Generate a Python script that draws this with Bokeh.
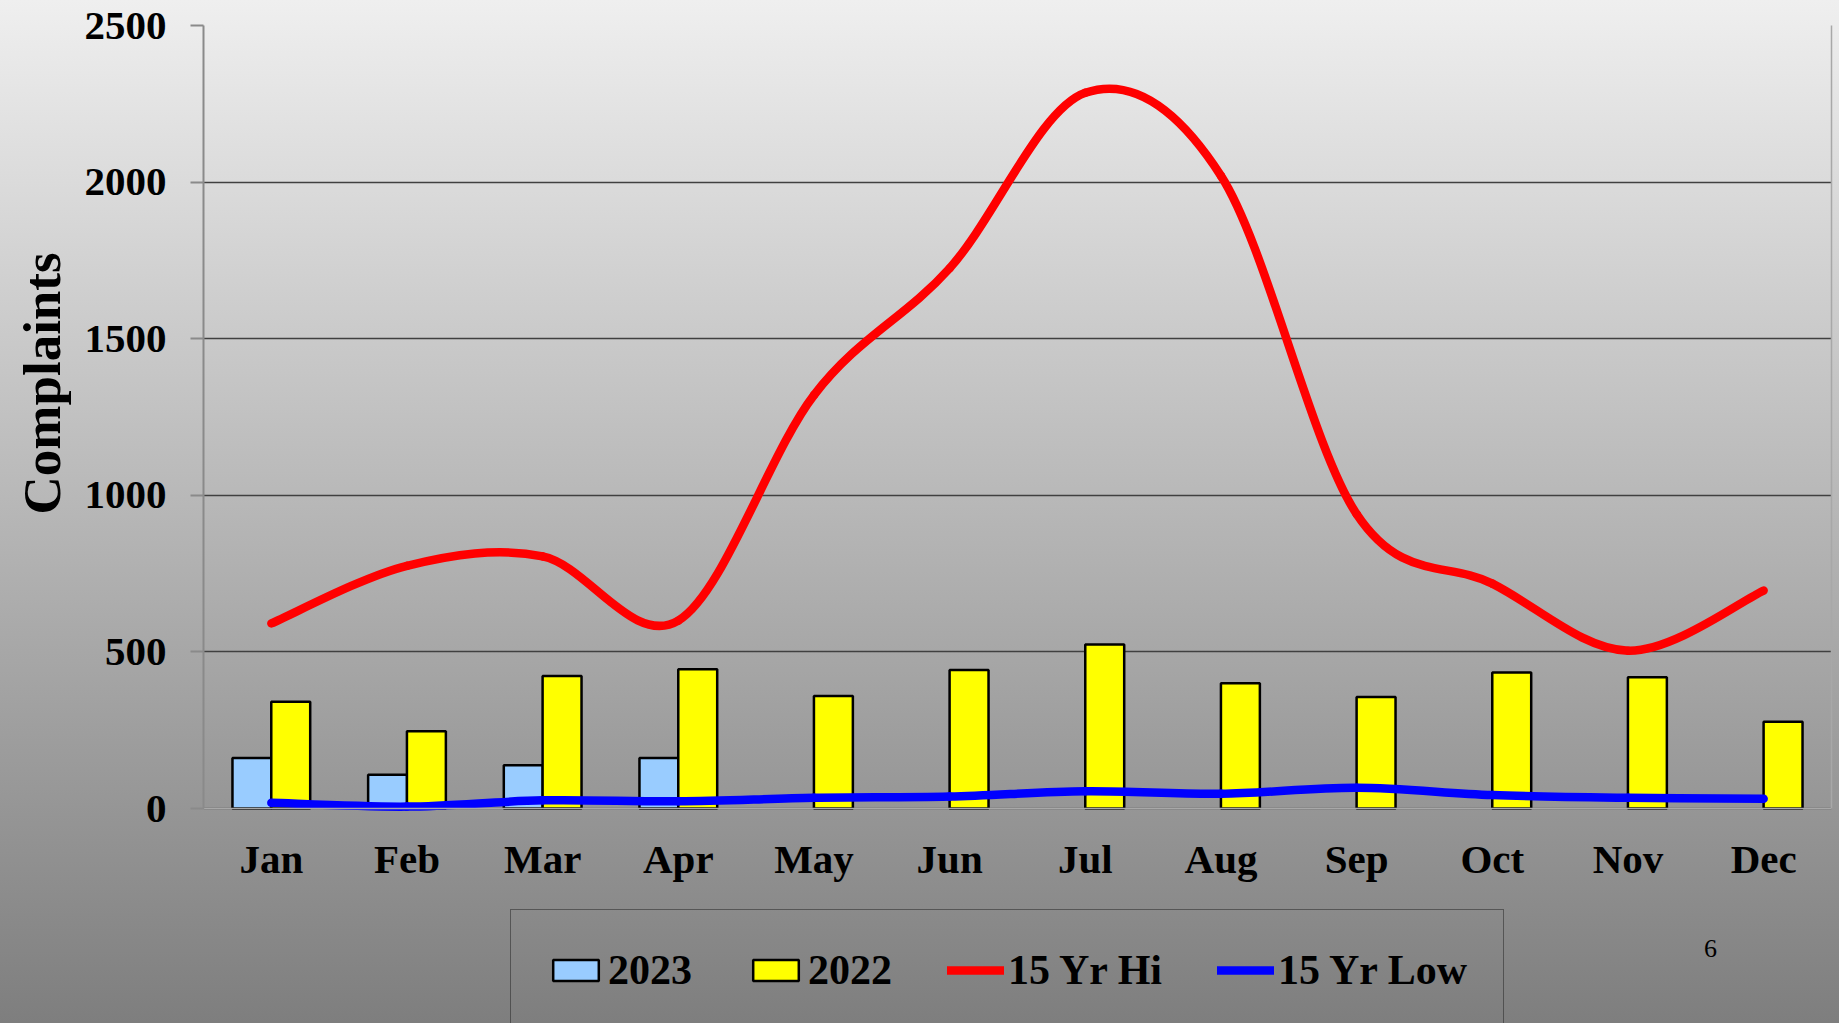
from bokeh.plotting import figure
from bokeh.models import (ColumnDataSource, FixedTicker, Legend, LegendItem, Title, Label,
                          LinearAxis)
from bokeh.embed import file_html
from bokeh.resources import INLINE

months = ["Jan", "Feb", "Mar", "Apr", "May", "Jun", "Jul", "Aug", "Sep", "Oct", "Nov", "Dec"]
vals_2023 = [161, 108, 138, 161, None, None, None, None, None, None, None, None]
vals_2022 = [341, 247, 423, 445, 359, 442, 524, 400, 356, 434, 419, 277]
hi_15yr = [591, 775, 805, 600, 1320, 1725, 2285, 2020, 940, 718, 504, 696]
low_15yr = [18, 6, 26, 23, 34, 38, 55, 47, 66, 43, 34, 31]
y_ticks = [0, 500, 1000, 1500, 2000, 2500]

FONT = "Liberation Serif"
xs = list(range(1, len(months) + 1))

# frame spans from the 2500 line down to the bottom of the page (legend lives below 0)
W, H = 1839, 1023
TOP, LEFT, RIGHT = 25, 203, 8
ZERO_PX = 808                      # pixel row of the value 0
y_top = 2500
y_bottom = -(H - ZERO_PX) * y_top / (ZERO_PX - TOP)

p = figure(width=W, height=H, output_backend="svg", toolbar_location=None,
           x_range=(0.5, 12.5), y_range=(y_bottom, y_top),
           min_border_left=LEFT, min_border_right=RIGHT, min_border_top=TOP,
           min_border_bottom=0)
p.background_fill_color = None
p.border_fill_color = None
p.styles = {"background-image": "linear-gradient(to bottom, #efefef, #7e7e7e)"}
p.outline_line_color = None

# bars
off = 0.143
bw = 0.287
s23 = ColumnDataSource(dict(x=[x - off for x, v in zip(xs, vals_2023) if v is not None],
                            top=[v for v in vals_2023 if v is not None]))
s22 = ColumnDataSource(dict(x=[x + off for x in xs], top=vals_2022))
r23 = p.vbar(x="x", top="top", width=bw, bottom=0, source=s23,
             fill_color="#99ccff", line_color="black", line_width=2.5)
r22 = p.vbar(x="x", top="top", width=bw, bottom=0, source=s22,
             fill_color="#ffff00", line_color="black", line_width=2.5)

# smoothed lines (Excel-like cubic bezier through the points)
def bez(xv, yv):
    n = len(xv)
    d = dict(x0=[], y0=[], x1=[], y1=[], cx0=[], cy0=[], cx1=[], cy1=[])
    for i in range(n - 1):
        i0 = max(i - 1, 0)
        i3 = min(i + 2, n - 1)
        d["x0"].append(xv[i]); d["y0"].append(yv[i])
        d["x1"].append(xv[i + 1]); d["y1"].append(yv[i + 1])
        d["cx0"].append(xv[i] + (xv[i + 1] - xv[i0]) / 6.0)
        d["cy0"].append(yv[i] + (yv[i + 1] - yv[i0]) / 6.0)
        d["cx1"].append(xv[i + 1] - (xv[i3] - xv[i]) / 6.0)
        d["cy1"].append(yv[i + 1] - (yv[i3] - yv[i]) / 6.0)
    return ColumnDataSource(d)

p.bezier(x0="x0", y0="y0", x1="x1", y1="y1", cx0="cx0", cy0="cy0", cx1="cx1", cy1="cy1",
         source=bez(xs, hi_15yr), line_color="#ff0000", line_width=8.5, line_cap="round")
p.bezier(x0="x0", y0="y0", x1="x1", y1="y1", cx0="cx0", cy0="cy0", cx1="cx1", cy1="cy1",
         source=bez(xs, low_15yr), line_color="#0000ff", line_width=8.5, line_cap="round")
nan = float("nan")
lhi = p.line(x=[nan], y=[nan], line_color="#ff0000", line_width=8.5, line_cap="round")
llo = p.line(x=[nan], y=[nan], line_color="#0000ff", line_width=8.5, line_cap="round")

# y axis (bounded to the data area)
p.yaxis.ticker = FixedTicker(ticks=y_ticks)
p.yaxis.bounds = (0, y_top)
p.yaxis.major_label_text_font = FONT
p.yaxis.major_label_text_font_style = "bold"
p.yaxis.major_label_text_font_size = "41px"
p.yaxis.major_label_text_color = "black"
p.yaxis.major_tick_out = 13
p.yaxis.major_tick_in = 0
p.yaxis.major_tick_line_color = "#8a8a8a"
p.yaxis.major_tick_line_width = 2
p.yaxis.minor_tick_line_color = None
p.yaxis.axis_line_color = "#8a8a8a"
p.yaxis.axis_line_width = 2
p.yaxis.major_label_standoff = 24

p.add_layout(Title(text="Complaints", align="left", offset=H - 514, standoff=18,
                   vertical_align="top",
                   text_font=FONT, text_font_style="bold", text_font_size="53px",
                   text_color="black"), "left")

# right border line of the data area
raxis = LinearAxis(ticker=FixedTicker(ticks=[]), bounds=(0, y_top),
                   axis_line_color="#a8a8a8", axis_line_width=1.5,
                   major_tick_out=0, major_tick_in=0, minor_tick_out=0, minor_tick_in=0,
                   major_label_standoff=0, minor_tick_line_color=None,
                   major_tick_line_color=None)
p.add_layout(raxis, "right")

# x axis drawn at value 0
p.xaxis.fixed_location = 0
p.xaxis.ticker = FixedTicker(ticks=xs)
p.xaxis.major_label_overrides = {x: m for x, m in zip(xs, months)}
p.xaxis.major_label_text_font = FONT
p.xaxis.major_label_text_font_style = "bold"
p.xaxis.major_label_text_font_size = "41px"
p.xaxis.major_label_text_color = "black"
p.xaxis.major_tick_out = 0
p.xaxis.major_tick_in = 0
p.xaxis.major_tick_line_color = None
p.xaxis.minor_tick_line_color = None
p.xaxis.axis_line_color = "#a8a8a8"
p.xaxis.axis_line_width = 1.5
p.xaxis.major_label_standoff = 27

p.xgrid.grid_line_color = None
p.ygrid.grid_line_color = "#404040"
p.ygrid.grid_line_width = 1.5

legend = Legend(items=[LegendItem(label="2023", renderers=[r23]),
                       LegendItem(label="2022", renderers=[r22]),
                       LegendItem(label="15 Yr Hi", renderers=[lhi]),
                       LegendItem(label="15 Yr Low", renderers=[llo])],
                orientation="horizontal", location=(307, -8),
                glyph_width=57, glyph_height=26, label_standoff=4, spacing=55,
                padding=36, margin=0,
                label_text_font=FONT, label_text_font_style="bold",
                label_text_font_size="42px", label_text_color="black",
                background_fill_alpha=0, border_line_color="#222222",
                border_line_width=1.5)
p.add_layout(legend, "center")

p.add_layout(Label(x=1710 - LEFT, y=H - 948, x_units="screen", y_units="screen", text="6",
                   text_font=FONT, text_font_size="26px", text_color="black",
                   text_align="center", text_baseline="middle"))

open("out.html", "w").write(file_html(p, INLINE))
